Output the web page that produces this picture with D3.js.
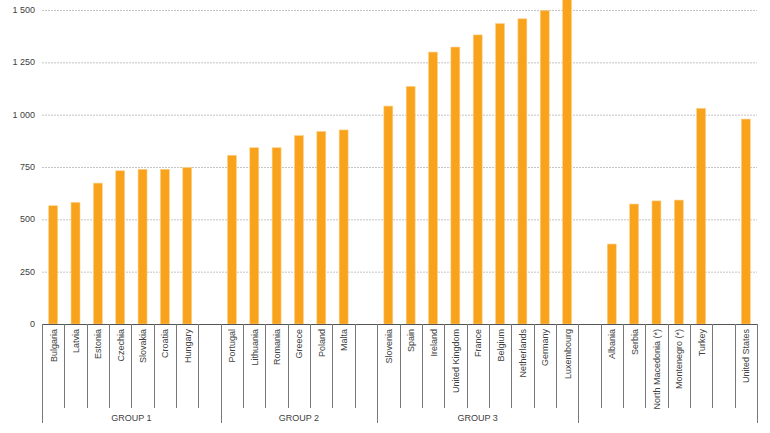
<!DOCTYPE html>
<html>
<head>
<meta charset="utf-8">
<script src="https://cdn.jsdelivr.net/npm/d3@7"></script>
<style>
  body { margin: 0; background: #fff; }
  svg { display: block; font-family: "Liberation Sans", Arial, sans-serif; }
</style>
</head>
<body>
<div class="chart"></div>
<script>
// categories ("" = empty slot between groups)
var categories = [
  "Bulgaria", "Latvia", "Estonia", "Czechia", "Slovakia", "Croatia", "Hungary", "",
  "Portugal", "Lithuania", "Romania", "Greece", "Poland", "Malta", "",
  "Slovenia", "Spain", "Ireland", "United Kingdom", "France", "Belgium", "Netherlands", "Germany", "Luxembourg",
  "", "Albania", "Serbia", "North Macedonia (*)", "Montenegro (*)", "Turkey", "", "United States"
];
var values = [
  565, 581, 673, 732, 739, 739, 747, null,
  806, 842, 842, 900, 920, 927, null,
  1041, 1135, 1299, 1323, 1381, 1435, 1458, 1498, 1600,
  null, 382, 573, 588, 592, 1030, null, 979
];
var groupNames = ["GROUP 1", "GROUP 2", "GROUP 3", ""];
var groupSizes = [8, 7, 9, 8];
var yTicks = [0, 250, 500, 750, 1000, 1250, 1500];

var width = 770, height = 433;
var margin = { top: 10, left: 42, right: 13, bottom: 109 };
var axisY = height - margin.bottom; // 324

var svg = d3.select("div.chart").append("svg").attr("width", width).attr("height", height);

var xScale = d3.scaleBand()
  .domain(d3.range(categories.length))
  .range([margin.left, width - margin.right])
  .padding(0);

var yScale = d3.scaleLinear()
  .domain([0, 1500])
  .range([axisY, margin.top]);

var fmt = function(d) { return d3.format(",")(d).replace(",", " "); };

// grid lines
svg.append("g").selectAll("line")
  .data(yTicks.filter(function(d) { return d > 0; }))
  .enter().append("line")
  .attr("x1", margin.left).attr("x2", width - margin.right)
  .attr("y1", function(d) { return yScale(d) + 0.5; })
  .attr("y2", function(d) { return yScale(d) + 0.5; })
  .attr("stroke", "#c4c4c4")
  .attr("stroke-dasharray", "2,1");

// y labels
svg.append("g").selectAll("text")
  .data(yTicks)
  .enter().append("text")
  .attr("x", 35)
  .attr("y", function(d) { return yScale(d) + 3; })
  .attr("text-anchor", "end")
  .attr("font-size", "9px")
  .attr("fill", "#404040")
  .text(fmt);

// bars (clipped to the plot area top)
svg.append("clipPath").attr("id", "plot")
  .append("rect").attr("x", 0).attr("y", 0).attr("width", width).attr("height", axisY);

var bw = xScale.bandwidth() * 0.4;
svg.append("g").attr("clip-path", "url(#plot)")
  .selectAll("rect")
  .data(values.map(function(v, i) { return [i, v]; }).filter(function(d) { return d[1] != null; }))
  .enter().append("rect")
  .attr("x", function(d) { return xScale(d[0]) + (xScale.bandwidth() - bw) / 2; })
  .attr("y", function(d) { return yScale(d[1]); })
  .attr("width", bw)
  .attr("height", function(d) { return axisY - yScale(d[1]); })
  .attr("fill", "#f8a31b")
  .attr("stroke", "#fcd08a")
  .attr("stroke-width", 0.6);

// axis line
svg.append("line")
  .attr("x1", margin.left).attr("x2", width - margin.right)
  .attr("y1", axisY + 0.5).attr("y2", axisY + 0.5)
  .attr("stroke", "#555").attr("stroke-width", 1);

// group boundaries
var bounds = [0];
groupSizes.forEach(function(s) { bounds.push(bounds[bounds.length - 1] + s); });

// short ticks between categories
var inner = d3.range(1, categories.length).filter(function(i) { return bounds.indexOf(i) < 0; });
svg.append("g").selectAll("line")
  .data(inner)
  .enter().append("line")
  .attr("x1", function(i) { return Math.round(xScale(i)) + 0.5; })
  .attr("x2", function(i) { return Math.round(xScale(i)) + 0.5; })
  .attr("y1", axisY).attr("y2", 408)
  .attr("stroke", "#777");

// long ticks at group boundaries
svg.append("g").selectAll("line")
  .data(bounds)
  .enter().append("line")
  .attr("x1", function(i) { return Math.round(i < categories.length ? xScale(i) : xScale.range()[1]) + 0.5; })
  .attr("x2", function(i) { return Math.round(i < categories.length ? xScale(i) : xScale.range()[1]) + 0.5; })
  .attr("y1", axisY).attr("y2", 423)
  .attr("stroke", "#777");

// category labels
svg.append("g").selectAll("text")
  .data(categories.map(function(c, i) { return [i, c]; }).filter(function(d) { return d[1] !== ""; }))
  .enter().append("text")
  .attr("transform", function(d) {
    return "translate(" + (xScale(d[0]) + xScale.bandwidth() / 2 + 3.5) + "," + 329 + ") rotate(-90)";
  })
  .attr("text-anchor", "end")
  .attr("font-size", "9px")
  .attr("fill", "#404040")
  .text(function(d) { return d[1]; });

// group labels
svg.append("g").selectAll("text")
  .data(groupNames.map(function(g, k) { return [k, g]; }))
  .enter().append("text")
  .attr("x", function(d) {
    var a = xScale(bounds[d[0]]);
    var b = bounds[d[0] + 1] < categories.length ? xScale(bounds[d[0] + 1]) : xScale.range()[1];
    return (a + b) / 2;
  })
  .attr("y", 421)
  .attr("text-anchor", "middle")
  .attr("font-size", "9px")
  .attr("fill", "#404040")
  .text(function(d) { return d[1]; });
</script>
</body>
</html>
